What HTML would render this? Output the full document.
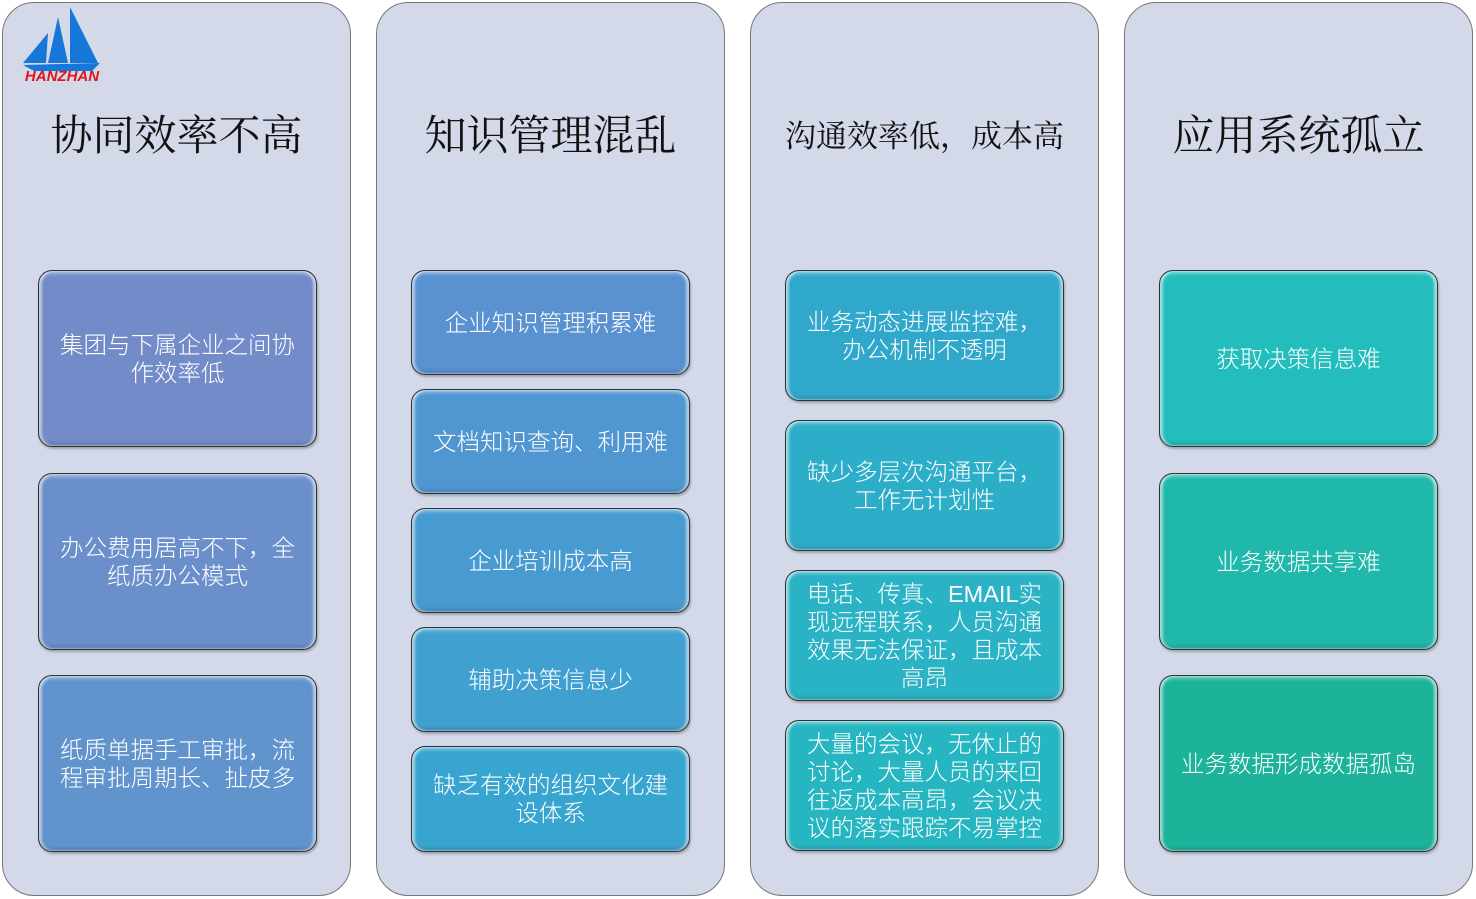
<!DOCTYPE html>
<html><head><meta charset="utf-8"><style>
body{margin:0;width:1476px;height:899px;background:#fff;position:relative;overflow:hidden;font-family:"Liberation Sans","Noto Sans CJK SC",sans-serif}
.col{position:absolute;top:2px;width:347px;height:892px;background:#d3d9e8;border:1px solid #777;border-radius:32px}
.t{position:absolute;left:0;width:100%;text-align:center;top:106px;font-size:42px;color:#111;line-height:56px;white-space:nowrap;font-family:"Liberation Serif","Noto Serif CJK SC",serif}
.b{position:absolute;box-sizing:border-box;width:279px;border:1.5px solid #333;border-radius:14px;display:flex;align-items:center;justify-content:center;text-align:center;color:#fff;font-size:23.5px;line-height:28px;padding:0 18px;font-weight:300;box-shadow:inset 3px 0 2px rgba(255,255,255,.5),inset -3px 0 2px rgba(255,255,255,.5),inset 0 3px 3px rgba(255,255,255,.35),inset 0 -3px 3px rgba(0,0,0,.15),1px 2px 2px rgba(0,0,0,.25)}
</style></head><body>
<div class="col" style="left:2px"><div class="t">协同效率不高</div></div>
<div class="col" style="left:376px"><div class="t">知识管理混乱</div></div>
<div class="col" style="left:750px"><div class="t" style="font-size:31px">沟通效率低，成本高</div></div>
<div class="col" style="left:1124px"><div class="t">应用系统孤立</div></div>
<svg style="position:absolute;left:20px;top:5px" width="86" height="78" viewBox="0 0 86 78">
<polygon points="50,2 78,58 50,58" fill="#1777d8"/><polygon points="38,12 48,58 28,58" fill="#1777d8"/><polygon points="28,28 26,58 3,58" fill="#1777d8"/>
<polygon points="3,60 80,58 72,66 14,66" fill="#1777d8"/>
<text x="42" y="76" text-anchor="middle" font-family="Liberation Sans" font-weight="bold" font-style="italic" font-size="15" fill="#e0141c">HANZHAN</text></svg>
<div class="b" style="left:38px;top:270px;height:177px;background:#738bc8">集团与下属企业之间协作效率低</div>
<div class="b" style="left:38px;top:473px;height:177px;background:#6b8fcb">办公费用居高不下，全纸质办公模式</div>
<div class="b" style="left:38px;top:675px;height:177px;background:#6193cd">纸质单据手工审批，流程审批周期长、扯皮多</div>
<div class="b" style="left:411px;top:270px;height:105px;background:#5a91d0">企业知识管理积累难</div>
<div class="b" style="left:411px;top:389px;height:105px;background:#5096d0">文档知识查询、利用难</div>
<div class="b" style="left:411px;top:508px;height:105px;background:#489bd0">企业培训成本高</div>
<div class="b" style="left:411px;top:627px;height:105px;background:#40a0d0">辅助决策信息少</div>
<div class="b" style="left:411px;top:746px;height:106px;background:#38a4d0">缺乏有效的组织文化建设体系</div>
<div class="b" style="left:785px;top:270px;height:131px;background:#30a8cc">业务动态进展监控难，<br>办公机制不透明</div>
<div class="b" style="left:785px;top:420px;height:131px;background:#2daec8">缺少多层次沟通平台，<br>工作无计划性</div>
<div class="b" style="left:785px;top:570px;height:131px;background:#2ab2c5;padding:0 16px">电话、传真、EMAIL实<br>现远程联系，人员沟通<br>效果无法保证，且成本<br>高昂</div>
<div class="b" style="left:785px;top:720px;height:131px;background:#26b6c2;padding:0 16px">大量的会议，无休止的<br>讨论，大量人员的来回<br>往返成本高昂，会议决<br>议的落实跟踪不易掌控</div>
<div class="b" style="left:1159px;top:270px;height:177px;background:#23bdbd">获取决策信息难</div>
<div class="b" style="left:1159px;top:473px;height:177px;background:#20b8ab">业务数据共享难</div>
<div class="b" style="left:1159px;top:675px;height:177px;background:#1db39b">业务数据形成数据孤岛</div>
</body></html>
